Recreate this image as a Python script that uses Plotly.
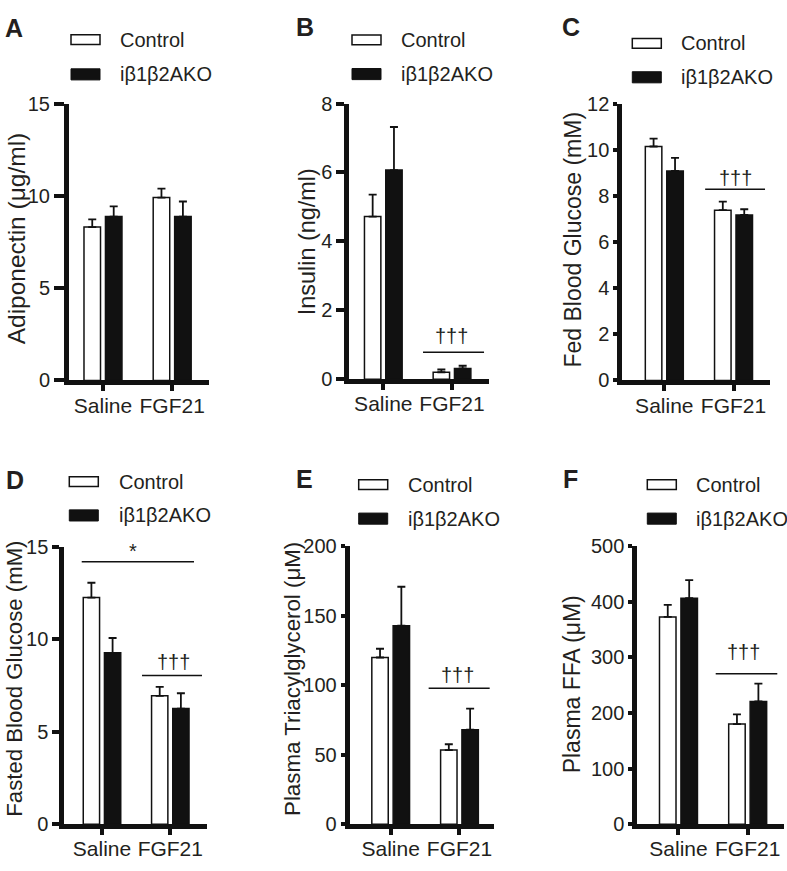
import plotly.graph_objects as go

# ---------------- data ----------------
categories = ["Saline", "FGF21"]
series_names = ["Control", "iβ1β2AKO"]

adipo_ctrl = [8.33, 9.93]
adipo_ctrl_err = [0.42, 0.49]
adipo_ko = [8.90, 8.90]
adipo_ko_err = [0.55, 0.82]

insulin_ctrl = [4.72, 0.20]
insulin_ctrl_err = [0.64, 0.08]
insulin_ko = [6.07, 0.31]
insulin_ko_err = [1.25, 0.08]

fedglu_ctrl = [10.14, 7.38]
fedglu_ctrl_err = [0.34, 0.37]
fedglu_ko = [9.08, 7.17]
fedglu_ko_err = [0.57, 0.25]

fastglu_ctrl = [12.27, 6.95]
fastglu_ctrl_err = [0.80, 0.49]
fastglu_ko = [9.28, 6.26]
fastglu_ko_err = [0.80, 0.83]

tg_ctrl = [119.9, 53.3]
tg_ctrl_err = [6.3, 4.2]
tg_ko = [142.8, 68.0]
tg_ko_err = [28.0, 15.2]

ffa_ctrl = [372.7, 180.0]
ffa_ctrl_err = [21.6, 17.4]
ffa_ko = [406.5, 220.8]
ffa_ko_err = [32.2, 32.1]

# ---------------- layout helpers ----------------
W, H = 787, 871
def px(x):
    return x / W
def py(y):
    return 1 - y / H

FONT = "Liberation Sans, Arial, Helvetica, sans-serif"
TXT = "#231f20"
INK = "#111111"

panels = [
    dict(letter="A", title="Adiponectin (μg/ml)", tsize=24.5, title_xy=(16.7, 233.5),
         ctrl=adipo_ctrl, ctrl_err=adipo_ctrl_err, ko=adipo_ko, ko_err=adipo_ko_err,
         xdom=(69, 209), ydom=(95.7, 379), xr=(-0.491, 1.532), ymax=15, dtick=5, ticklen=10,
         letter_xy=(3, 17), leg=(71, 29.3, 65.0, 118),
         sig=[]),
    dict(letter="B", title="Insulin (ng/ml)", tsize=23.4, title_xy=(306.5, 236.7),
         ctrl=insulin_ctrl, ctrl_err=insulin_ctrl_err, ko=insulin_ko, ko_err=insulin_ko_err,
         xdom=(349.3, 488.7), ydom=(95, 377.7), xr=(-0.495, 1.534), ymax=8, dtick=2, ticklen=8,
         letter_xy=(293.7, 16), leg=(352, 29.6, 64.7, 398.7),
         sig=[(0.578, 1.466, 0.78, "†††", 0.99, 1.26)]),
    dict(letter="C", title="Fed Blood Glucose (mM)", tsize=23, title_xy=(573.5, 235),
         ctrl=fedglu_ctrl, ctrl_err=fedglu_ctrl_err, ko=fedglu_ko, ko_err=fedglu_ko_err,
         xdom=(622.3, 770), ydom=(95, 379), xr=(-0.607, 1.527), ymax=12, dtick=2, ticklen=4,
         letter_xy=(560, 16), leg=(632.3, 33.3, 68.0, 679),
         sig=[(0.59, 1.455, 8.29, "†††", 1.03, 8.76)]),
    dict(letter="D", title="Fasted Blood Glucose (mM)", tsize=22.2, title_xy=(15, 685),
         ctrl=fastglu_ctrl, ctrl_err=fastglu_ctrl_err, ko=fastglu_ko, ko_err=fastglu_ko_err,
         xdom=(64.3, 206.7), ydom=(550, 834.3), xr=(-0.552, 1.533), ymax=15, dtick=5, ticklen=7,
         letter_xy=(4, 481), leg=(69.3, 482.7, 517.5, 116.7),
         sig=[(-0.297, 1.347, 14.21, "*", 0.447, 14.79),
              (0.586, 1.464, 8.05, "†††", 1.054, 8.78)]),
    dict(letter="E", title="Plasma Triacylglycerol (μM)", tsize=22.3, title_xy=(292.5, 685.8),
         ctrl=tg_ctrl, ctrl_err=tg_ctrl_err, ko=tg_ko, ko_err=tg_ko_err,
         xdom=(349.7, 494), ydom=(549, 834.3), xr=(-0.596, 1.502), ymax=200, dtick=50, ticklen=4,
         letter_xy=(293.7, 480), leg=(358.7, 486, 520.8, 406),
         sig=[(0.552, 1.439, 97.7, "†††", 0.967, 107.5)]),
    dict(letter="F", title="Plasma FFA (μM)", tsize=23, title_xy=(572, 690.8),
         ctrl=ffa_ctrl, ctrl_err=ffa_ctrl_err, ko=ffa_ko, ko_err=ffa_ko_err,
         xdom=(637.3, 784), ydom=(549, 834.3), xr=(-0.595, 1.525), ymax=500, dtick=100, ticklen=4,
         letter_xy=(560.7, 480), leg=(647.3, 486, 520.8, 694),
         sig=[(0.538, 1.428, 270.4, "†††", 0.946, 309.8)]),
]

fig = go.Figure()
shapes = []
annotations = []
layout_axes = {}

for i, p in enumerate(panels):
    n = i + 1
    xa = "x" if n == 1 else f"x{n}"
    ya = "y" if n == 1 else f"y{n}"
    for name, vals, errs, fill in [(series_names[0], p["ctrl"], p["ctrl_err"], "white"),
                                   (series_names[1], p["ko"], p["ko_err"], INK)]:
        fig.add_trace(go.Bar(
            x=categories, y=vals, name=name, xaxis=xa, yaxis=ya, showlegend=False,
            marker=dict(color=fill, line=dict(color=INK, width=1.5)),
            error_y=dict(type="data", array=errs, arrayminus=[0] * len(errs), symmetric=False,
                         color=INK, thickness=1.8, width=4),
        ))
    layout_axes[f"xaxis{'' if n == 1 else n}"] = dict(
        domain=[px(p["xdom"][0]), px(p["xdom"][1])], range=list(p["xr"]), anchor=ya,
        type="category", showline=True, linewidth=5, linecolor=INK,
        ticks="outside", ticklen=6, tickwidth=4, tickcolor=INK, ticklabelstandoff=-4,
        tickfont=dict(size=21, color=TXT, family=FONT),
        showgrid=False, zeroline=False, fixedrange=True)
    layout_axes[f"yaxis{'' if n == 1 else n}"] = dict(
        domain=[py(p["ydom"][1]), py(p["ydom"][0])], range=[0, p["ymax"]], anchor=xa,
        tick0=0, dtick=p["dtick"], showline=True, linewidth=5, linecolor=INK,
        ticks="outside", ticklen=p["ticklen"], tickwidth=4, tickcolor=INK,
        tickfont=dict(size=20, color=TXT, family=FONT),
        showgrid=False, zeroline=False, fixedrange=True)

    # y-axis title (rotated text)
    annotations.append(dict(text=p["title"], x=px(p["title_xy"][0]), y=py(p["title_xy"][1]),
                            xref="paper", yref="paper", xanchor="center", yanchor="middle",
                            textangle=-90, showarrow=False,
                            font=dict(size=p["tsize"], color=TXT, family=FONT)))
    # panel letter
    annotations.append(dict(text=f"<b>{p['letter']}</b>", x=px(p["letter_xy"][0]), y=py(p["letter_xy"][1]),
                            xref="paper", yref="paper", xanchor="left", yanchor="middle",
                            showarrow=False, font=dict(size=25, color=TXT, family=FONT)))
    # per-panel legend
    lx, c1, c2, tx = p["leg"]
    shapes.append(dict(type="rect", xref="paper", yref="paper", x0=px(lx), x1=px(lx + 29),
                       y0=py(c1 + 5), y1=py(c1 - 5), fillcolor="white",
                       line=dict(color=INK, width=1.5)))
    shapes.append(dict(type="rect", xref="paper", yref="paper", x0=px(lx), x1=px(lx + 29),
                       y0=py(c2 + 5.7), y1=py(c2 - 5.7), fillcolor=INK,
                       line=dict(color=INK, width=1)))
    for name, cy in [(series_names[0], c1), (series_names[1], c2)]:
        annotations.append(dict(text=name, x=px(tx), y=py(cy), xref="paper", yref="paper",
                                xanchor="left", yanchor="middle", showarrow=False,
                                font=dict(size=20, color=TXT, family=FONT)))
    # significance marks
    for (x0, x1, yl, txt, tx_, ty_) in p["sig"]:
        shapes.append(dict(type="line", xref=xa, yref=ya, x0=x0, x1=x1, y0=yl, y1=yl,
                           line=dict(color=INK, width=1.5)))
        annotations.append(dict(text=txt, x=tx_, y=ty_, xref=xa, yref=ya,
                                xanchor="center", yanchor="middle", showarrow=False,
                                font=dict(size=20, color=TXT, family=FONT)))

fig.update_layout(
    width=W, height=H, margin=dict(l=0, r=0, t=0, b=0, pad=0),
    paper_bgcolor="white", plot_bgcolor="white",
    barmode="group", bargap=0.38, bargroupgap=0.23,
    font=dict(family=FONT, color=TXT),
    shapes=shapes, annotations=annotations,
    **layout_axes,
)

fig.write_html("out.html", config={"displayModeBar": False},
               post_script="document.body.style.margin='0';")
